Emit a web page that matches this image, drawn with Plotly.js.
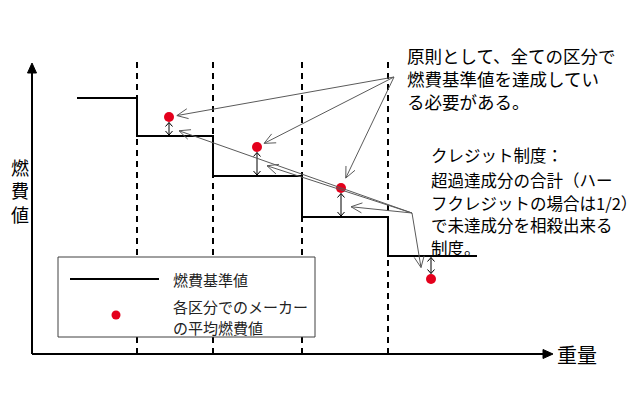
<!DOCTYPE html>
<html><head><meta charset="utf-8">
<script src="https://cdn.plot.ly/plotly-3.0.1.min.js"></script>
<style>html,body{margin:0;padding:0;background:#fff}</style>
</head><body><div id="chart" style="width:640px;height:400px"></div>
<script>
// ---- data (weight / fuel-economy units, schematic) ----
const classEdges = [45, 105, 181, 270, 356, 445];
const standardValues = [256, 218, 178, 137, 98];
const makerWeights = [137, 225, 309, 399];
const makerAverages = [237, 207, 166, 75];
const makerClassIndex = [1, 2, 3, 4];
const seriesNames = ['燃費基準値', '各区分でのメーカー<br>の平均燃費値'];
const xAxisTitle = '重量';
const yAxisTitle = ['燃', '費', '値'];
const noteRule = ['原則として、全ての区分で', '燃費基準値を達成してい', 'る必要がある。'];
const noteCredit = ['クレジット制度：', '超過達成分の合計（ハー', 'フクレジットの場合は1/2）', 'で未達成分を相殺出来る', '制度。'];

// ---- layout helpers (1 data unit = 1 px) ----
const OX = 32, OY = 354;
const dx = p => p - OX;
const dy = p => OY - p;
const FONT = 'Noto Sans CJK JP, Noto Sans, sans-serif';
const RED = '#e4001c';
const GREY = '#5a5a5a';

const shapes = [];
function seg(x0, y0, x1, y1, color, width, dash) {
  shapes.push({type: 'line', xref: 'x', yref: 'y', x0, y0, x1, y1, layer: 'above',
    line: {color, width, dash: dash || 'solid'}});
}
function vHead(tx, ty, fx, fy, len, half, color, width) {
  const ddx = tx - fx, ddy = ty - fy, L = Math.hypot(ddx, ddy);
  const ux = ddx / L, uy = ddy / L, bx = tx - ux * len, by = ty - uy * len, nx = -uy, ny = ux;
  shapes.push({type: 'path', xref: 'x', yref: 'y', layer: 'above', fillcolor: 'rgba(0,0,0,0)',
    path: `M${bx + nx * half},${by + ny * half}L${tx},${ty}L${bx - nx * half},${by - ny * half}`,
    line: {color, width}});
}
function arrow(fx, fy, tx, ty, color, width, len, half) {
  seg(fx, fy, tx, ty, color, width);
  vHead(tx, ty, fx, fy, len, half, color, width);
}
function triHead(tx, ty, ux, uy, len, half) {
  const bx = tx - ux * len, by = ty - uy * len, nx = -uy, ny = ux;
  shapes.push({type: 'path', xref: 'x', yref: 'y', layer: 'above', fillcolor: '#000',
    path: `M${tx},${ty}L${bx + nx * half},${by + ny * half}L${bx - nx * half},${by - ny * half}Z`,
    line: {color: '#000', width: 1}});
}

// dashed class boundaries
for (let i = 1; i < classEdges.length - 1; i++) {
  shapes.push({type: 'line', xref: 'x', yref: 'y', layer: 'below', x0: classEdges[i], x1: classEdges[i],
    y0: 0, y1: dy(60), line: {color: '#000', width: 2, dash: '6px,5px'}});
}
// axes with arrowheads
seg(0, 0, 0, dy(72), '#000', 2);
triHead(0, dy(63), 0, 1, 10, 4.5);
seg(0, 0, dx(544), 0, '#000', 2);
triHead(dx(553), 0, 1, 0, 10, 4.5);

// difference double arrows
const diffMid = [];
makerWeights.forEach((w, i) => {
  const std = standardValues[makerClassIndex[i]], v = makerAverages[i];
  let a, b;
  if (v > std) { a = v - 5.5; b = std + 1; } else { a = std - 1.5; b = v + 5.5; }
  seg(w, a, w, b, '#000', 1);
  vHead(w, a, w, b, 4, 3.5, '#000', 1);
  vHead(w, b, w, a, 4, 3.5, '#000', 1);
  diffMid.push([w, (a + b) / 2]);
});

// pointer arrows from note 1 to each maker dot (except last)
const OA = [dx(394), dy(77)];
for (let i = 0; i < 3; i++) {
  const w = makerWeights[i], v = makerAverages[i];
  const L = Math.hypot(OA[0] - w, OA[1] - v);
  const g = i === 2 ? 11 : 8;
  arrow(OA[0], OA[1], w + (OA[0] - w) / L * g, v + (OA[1] - v) / L * g, GREY, 1, 11, 5);
}
// pointer arrows from credit note to each difference
const OB = [dx(412), dy(213)];
diffMid.forEach(([w, m]) => {
  const s = Math.sign(OB[0] - w);
  arrow(OB[0], OB[1], w + s * 10, m - 2, GREY, 1, 11, 5);
});

// legend (drawn by hand)
shapes.push({type: 'rect', xref: 'x', yref: 'y', layer: 'above', x0: dx(58), x1: dx(315), y0: dy(257), y1: dy(337),
  fillcolor: '#fff', line: {color: '#404040', width: 1}});
seg(dx(70), dy(279), dx(159), dy(279), '#000', 2);
shapes.push({type: 'circle', xref: 'x', yref: 'y', layer: 'above', x0: dx(111.5), x1: dx(120.5), y0: dy(310.5), y1: dy(319.5),
  fillcolor: RED, line: {color: RED, width: 0}});

const annotations = [];
function txt(x, y, text, size, anchor, color) {
  annotations.push({xref: 'x', yref: 'y', x, y, text, showarrow: false, xanchor: anchor || 'left',
    yanchor: 'middle', align: anchor === 'center' ? 'center' : 'left', borderpad: 0,
    font: {family: FONT, size, color: color || '#000'}});
}
txt(dx(172), dy(279), seriesNames[0], 15, 'left', '#222');
seriesNames[1].split('<br>').forEach((s, i) => txt(dx(172), dy(306 + i * 21), s, 15, 'left', '#222'));
txt(dx(20), dy(190), yAxisTitle.join('<br>'), 18, 'center');
txt(dx(556), dy(354), xAxisTitle, 20, 'left');
txt(dx(406), dy(78), noteRule.join('<br>'), 17.5, 'left');
const creditY = [155, 180, 203, 225, 248];
noteCredit.forEach((s, i) => txt(dx(430), dy(creditY[i]), s, 16.5, 'left'));

const traces = [
  {type: 'scatter', mode: 'lines', name: seriesNames[0], x: classEdges,
   y: standardValues.concat([standardValues[standardValues.length - 1]]),
   line: {shape: 'hv', color: '#000', width: 2}, hoverinfo: 'skip', showlegend: false},
  {type: 'scatter', mode: 'markers', name: seriesNames[1], x: makerWeights, y: makerAverages,
   marker: {color: RED, size: 10}, hoverinfo: 'skip', showlegend: false, cliponaxis: false}
];

const layout = {
  width: 640, height: 400, margin: {l: 0, r: 0, t: 0, b: 0, autoexpand: false},
  paper_bgcolor: '#fff', plot_bgcolor: '#fff', showlegend: false,
  xaxis: {range: [dx(0), dx(640)], visible: false, fixedrange: true},
  yaxis: {range: [dy(400), dy(0)], visible: false, fixedrange: true},
  shapes, annotations
};
Plotly.newPlot('chart', traces, layout, {displayModeBar: false, staticPlot: true});
</script></body></html>
